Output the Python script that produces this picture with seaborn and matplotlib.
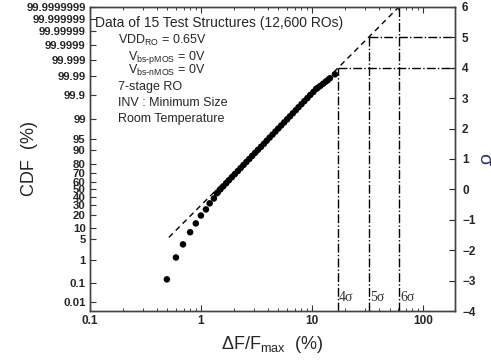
import numpy as np
import pandas as pd
import seaborn as sns
import matplotlib.pyplot as plt
from statistics import NormalDist

# Data: measured points (delta F / Fmax in %, normal quantile sigma)
tail_x = [0.494, 0.596, 0.69, 0.80, 0.90, 1.0, 1.11, 1.2, 1.31, 1.39]
tail_sigma = [-2.96, -2.24, -1.81, -1.41, -1.12, -0.86, -0.66, -0.46, -0.30, -0.13]
body_x = [1.42, 1.50, 1.59, 1.69, 1.79, 1.90, 2.02, 2.15, 2.28, 2.42, 2.57,
          2.73, 2.90, 3.08, 3.27, 3.48, 3.70, 3.92, 4.16, 4.42, 4.69,
          4.98, 5.29, 5.62, 5.97, 6.34, 6.73, 7.15, 7.58, 8.05, 8.55,
          9.1, 9.65, 10.3, 10.9]
body_sigma = [-0.1, 0.0, 0.1, 0.2, 0.3, 0.4, 0.5, 0.6, 0.7, 0.8, 0.9,
              1.0, 1.1, 1.2, 1.3, 1.4, 1.5, 1.6, 1.7, 1.8, 1.9,
              2.0, 2.1, 2.2, 2.3, 2.4, 2.5, 2.6, 2.7, 2.8, 2.9,
              3.0, 3.1, 3.2, 3.3]
top_x = [11.3, 11.9, 12.6, 13.3, 13.9, 14.5, 16.1]
top_sigma = [3.34, 3.40, 3.47, 3.54, 3.59, 3.65, 3.78]

# Fitted normal line
fit_x = [0.515, 60.8]
fit_sigma = [-1.58, 6.0]

# sigma guide lines
guide_sigma = [4, 5, 6]
guide_x = [17.0, 32.6, 60.8]
guide_labels = ["4σ", "5σ", "6σ"]

# axis tick labels
cdf_labels = ["0.01", "0.1", "1", "5", "10", "20", "30", "40", "50", "60", "70",
              "80", "90", "95", "99", "99.9", "99.99", "99.999", "99.9999",
              "99.99999", "99.999999", "99.9999999"]
sigma_ticks = [-4, -3, -2, -1, 0, 1, 2, 3, 4, 5, 6]
x_ticks = [0.1, 1, 10, 100]
x_ticklabels = ["0.1", "1", "10", "100"]

df = pd.DataFrame({
    "x": tail_x + body_x + top_x,
    "sigma": tail_sigma + body_sigma + top_sigma,
})
fit_df = pd.DataFrame({"x": fit_x, "sigma": fit_sigma})

sns.set_theme(style="ticks")
plt.rcParams["font.family"] = ["Liberation Sans", "DejaVu Sans"]
plt.rcParams["mathtext.default"] = "regular"

fig = plt.figure(figsize=(4.91, 3.61), dpi=100)
ax = fig.add_axes([0.183, 0.1385, 0.744, 0.8425])
ax.set_xscale("log")

sns.lineplot(data=fit_df, x="x", y="sigma", ax=ax, color="black", lw=1.0,
             linestyle=(0, (4, 3)), zorder=2)
sns.scatterplot(data=df, x="x", y="sigma", ax=ax, color="black", s=22,
                edgecolor="none", zorder=3)

xmax = 195
for s, gx, lab in zip(guide_sigma, guide_x, guide_labels):
    ax.plot([gx, gx], [-4, s], color="black", lw=1.0, linestyle="-.")
    if s < 6:
        ax.plot([gx, xmax], [s, s], color="black", lw=1.0, linestyle="-.")
    ax.text(gx * 1.03, -3.55, lab, family="Liberation Serif", fontsize=10,
            color="#333333", ha="left", va="center")

ax.set_xlim(0.1, xmax)
ax.set_ylim(-4, 6)

cdf_sigma = [NormalDist().inv_cdf(float(p) / 100) for p in cdf_labels]
ax.set_yticks(cdf_sigma)
ax.set_yticklabels(cdf_labels, fontsize=8.2, fontweight="bold")
ax.set_xticks(x_ticks)
ax.set_xticklabels(x_ticklabels, fontsize=8.5, fontweight="bold")
ax.tick_params(axis="both", which="major", direction="in", length=4,
               width=0.8, color="#333333", top=True, pad=3)
ax.tick_params(axis="x", which="minor", direction="in", length=2.5,
               width=0.6, top=True)
ax.tick_params(axis="y", which="minor", left=False)

ax2 = ax.twinx()
ax2.set_ylim(-4, 6)
ax2.set_yticks(sigma_ticks)
ax2.set_yticklabels([str(t).replace("-", "\u2212") for t in sigma_ticks],
                    fontsize=8.5, fontweight="bold")
ax2.tick_params(axis="y", direction="in", length=4, width=0.8, pad=5)
ax2.set_ylabel("σ", fontsize=14, color="#333366", rotation=270, va="center")
ax2.yaxis.set_label_coords(1.078, 0.5)

for a in (ax, ax2):
    for sp in a.spines.values():
        sp.set_color("#444444")
        sp.set_linewidth(1.0)

ax.set_xlabel(r"ΔF/F$_{max}$  (%)", fontsize=13, labelpad=5)
ax.set_ylabel("CDF  (%)", fontsize=13, va="center")
ax.yaxis.set_label_coords(-0.165, 0.5)

ax.text(0.013, 0.97, "Data of 15 Test Structures (12,600 ROs)",
        transform=ax.transAxes, fontsize=10, ha="left", va="top")
info = [(0.077, 0.89, r"VDD$_{RO}$ = 0.65V"),
        (0.105, 0.835, r"V$_{bs\text{-}pMOS}$ = 0V"),
        (0.105, 0.79, r"V$_{bs\text{-}nMOS}$ = 0V"),
        (0.077, 0.735, "7-stage RO"),
        (0.077, 0.685, "INV : Minimum Size"),
        (0.077, 0.632, "Room Temperature")]
for tx, ty, t in info:
    ax.text(tx, ty, t, transform=ax.transAxes, fontsize=9, ha="left",
            va="center")

fig.savefig("out.png", dpi=100)
